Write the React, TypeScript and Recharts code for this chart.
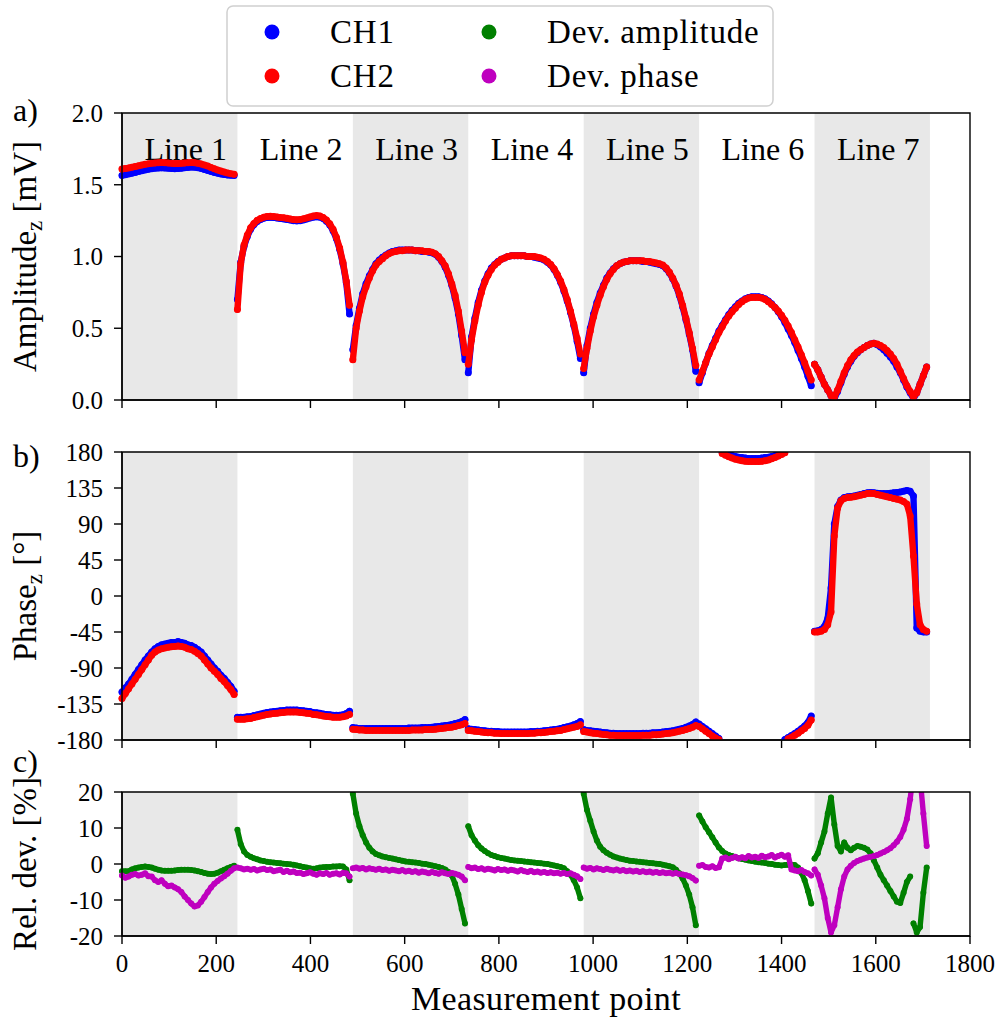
import React from "react";
import { ComposedChart, Scatter, XAxis, YAxis, ReferenceArea } from "recharts";

const FONT = '"Liberation Serif", "Times New Roman", serif';
const BLUE = "#0000ff";
const RED = "#ff0000";
const GREEN = "#008000";
const MAGENTA = "#bf00bf";
const SHADE = "#e8e8e8";

// every 7th measurement point, 35 samples per line (245 points per line)
const STEP = 7;
const PER_LINE = 35;
const LINE_LEN = 245;
const lineNames = ["Line 1", "Line 2", "Line 3", "Line 4", "Line 5", "Line 6", "Line 7"];
const xTicks = [0, 200, 400, 600, 800, 1000, 1200, 1400, 1600, 1800];
const ampTicks = [0, 0.5, 1, 1.5, 2];
const phaseTicks = [-180, -135, -90, -45, 0, 45, 90, 135, 180];
const devTicks = [-20, -10, 0, 10, 20];

const ch1Amplitude = [
  1.565, 1.57, 1.575, 1.58, 1.586, 1.592, 1.598, 1.603, 1.608, 1.612, 1.615, 1.617, 1.618, 1.617, 1.615, 1.613, 1.612, 1.613, 1.615, 1.618, 1.621, 1.623, 1.622, 1.619, 1.614, 1.607, 1.6, 1.593, 1.586, 1.58, 1.575, 1.571, 1.568, 1.566, 1.565,
  0.7, 0.96, 1.07, 1.14, 1.19, 1.222, 1.244, 1.258, 1.267, 1.272, 1.273, 1.271, 1.268, 1.265, 1.262, 1.258, 1.254, 1.25, 1.248, 1.25, 1.255, 1.261, 1.268, 1.274, 1.277, 1.274, 1.264, 1.246, 1.22, 1.18, 1.125, 1.05, 0.95, 0.82, 0.6,
  0.35, 0.52, 0.64, 0.74, 0.81, 0.865, 0.91, 0.95, 0.975, 0.995, 1.01, 1.025, 1.035, 1.04, 1.045, 1.045, 1.045, 1.045, 1.045, 1.04, 1.04, 1.035, 1.035, 1.03, 1.025, 1.015, 0.995, 0.965, 0.925, 0.87, 0.8, 0.71, 0.6, 0.45, 0.28,
  0.19, 0.44, 0.57, 0.68, 0.765, 0.83, 0.88, 0.92, 0.945, 0.965, 0.98, 0.99, 1.0, 1.005, 1.005, 1.005, 1.005, 1.005, 1.0, 1.0, 0.995, 0.99, 0.985, 0.975, 0.96, 0.94, 0.91, 0.87, 0.82, 0.76, 0.69, 0.61, 0.52, 0.41, 0.29,
  0.19, 0.38, 0.5, 0.6, 0.68, 0.745, 0.8, 0.85, 0.885, 0.915, 0.935, 0.95, 0.96, 0.965, 0.97, 0.97, 0.97, 0.97, 0.965, 0.965, 0.96, 0.955, 0.95, 0.945, 0.935, 0.915, 0.885, 0.845, 0.795, 0.73, 0.65, 0.56, 0.46, 0.35, 0.2,
  0.12, 0.19, 0.26, 0.325, 0.38, 0.43, 0.48, 0.52, 0.56, 0.595, 0.625, 0.65, 0.675, 0.69, 0.705, 0.715, 0.72, 0.72, 0.72, 0.715, 0.705, 0.69, 0.67, 0.645, 0.615, 0.58, 0.54, 0.495, 0.45, 0.4, 0.345, 0.29, 0.23, 0.165, 0.1,
  0.25, 0.21, 0.16, 0.11, 0.07, 0.03, 0.01, 0.06, 0.12, 0.18, 0.23, 0.27, 0.305, 0.33, 0.35, 0.365, 0.38, 0.39, 0.395, 0.385, 0.37, 0.35, 0.325, 0.3, 0.27, 0.23, 0.19, 0.14, 0.09, 0.05, 0.01, 0.05, 0.11, 0.17, 0.23,
];

const ch2Amplitude = [
  1.61, 1.613, 1.617, 1.622, 1.627, 1.632, 1.637, 1.642, 1.646, 1.649, 1.652, 1.654, 1.655, 1.654, 1.652, 1.649, 1.648, 1.648, 1.65, 1.652, 1.654, 1.655, 1.653, 1.65, 1.645, 1.638, 1.63, 1.621, 1.612, 1.603, 1.595, 1.588, 1.582, 1.577, 1.573,
  0.63, 0.95, 1.08, 1.15, 1.2, 1.23, 1.252, 1.265, 1.274, 1.279, 1.28, 1.278, 1.275, 1.272, 1.27, 1.266, 1.262, 1.258, 1.256, 1.258, 1.263, 1.269, 1.276, 1.282, 1.285, 1.282, 1.272, 1.254, 1.228, 1.19, 1.135, 1.06, 0.96, 0.83, 0.66,
  0.28, 0.5, 0.62, 0.72, 0.79, 0.85, 0.9, 0.94, 0.965, 0.985, 1.005, 1.02, 1.03, 1.035, 1.04, 1.04, 1.045, 1.045, 1.045, 1.04, 1.04, 1.04, 1.035, 1.035, 1.03, 1.02, 1.0, 0.97, 0.935, 0.88, 0.81, 0.73, 0.62, 0.48, 0.33,
  0.25, 0.42, 0.55, 0.66, 0.75, 0.82, 0.87, 0.91, 0.94, 0.96, 0.98, 0.99, 1.0, 1.005, 1.005, 1.005, 1.005, 1.005, 1.0, 1.0, 1.0, 0.995, 0.99, 0.98, 0.965, 0.945, 0.915, 0.875, 0.83, 0.77, 0.7, 0.62, 0.53, 0.43, 0.32,
  0.22, 0.36, 0.48, 0.58, 0.66, 0.73, 0.79, 0.84, 0.88, 0.91, 0.935, 0.95, 0.96, 0.965, 0.97, 0.97, 0.97, 0.97, 0.97, 0.965, 0.965, 0.96, 0.955, 0.95, 0.94, 0.92, 0.89, 0.85, 0.8, 0.74, 0.66, 0.57, 0.47, 0.36, 0.24,
  0.14, 0.2, 0.26, 0.32, 0.37, 0.42, 0.47, 0.51, 0.55, 0.585, 0.615, 0.64, 0.665, 0.685, 0.7, 0.71, 0.715, 0.715, 0.715, 0.71, 0.7, 0.685, 0.665, 0.645, 0.62, 0.59, 0.555, 0.515, 0.47, 0.42, 0.37, 0.315, 0.26, 0.2, 0.14,
  0.25, 0.21, 0.16, 0.11, 0.07, 0.03, 0.02, 0.07, 0.13, 0.19, 0.24, 0.28, 0.31, 0.335, 0.35, 0.365, 0.38, 0.39, 0.395, 0.39, 0.38, 0.365, 0.345, 0.32, 0.29, 0.25, 0.2, 0.15, 0.1, 0.06, 0.02, 0.05, 0.11, 0.17, 0.23,
];

const ch1Phase = [
  -120, -115, -110, -104, -98, -92, -86, -80, -75, -70, -66, -63, -61, -60, -59, -58, -58, -57, -58, -59, -61, -62, -64, -67, -70, -75, -80, -85, -90, -94, -99, -103, -108, -113, -119,
  -151.5, -151.5, -151.5, -151, -150.5, -149.5, -148.5, -147.5, -146.5, -145.5, -145, -144.5, -144, -143.5, -143, -142.5, -142.5, -142.5, -142.5, -143, -143.5, -144, -144.5, -145.5, -146, -146.5, -147.5, -148, -148.5, -149, -149, -149, -148.5, -147, -144,
  -164.5, -165, -165.5, -165.5, -165.5, -165.5, -165.5, -165.5, -165.5, -165.5, -165.5, -165.5, -165.5, -165.5, -165.5, -165.5, -165.5, -165, -165, -165, -165, -164.5, -164.5, -164.5, -164, -163.5, -163, -162.5, -162, -161.5, -160.5, -159.5, -158.5, -157, -154.5,
  -166, -166.5, -167, -167.5, -168, -168.5, -169, -169, -169.5, -169.5, -170, -170, -170, -170, -170, -170, -170, -170, -170, -169.5, -169.5, -169, -169, -168.5, -168, -167.5, -167, -166.5, -165.5, -164.5, -163.5, -162.5, -161, -159.5, -157,
  -167, -168, -168.5, -169, -169.5, -170, -170.5, -171, -171.5, -171.5, -172, -172, -172, -172, -172, -172, -172, -172, -171.5, -171.5, -171.5, -171, -171, -170.5, -170, -169.5, -169, -168.5, -167.5, -166.5, -165.5, -164, -162.5, -160.5, -157.5,
  -160, -163, -166, -169, -172, -175, -178, 179.5, 178, 176.5, 175.5, 174.5, 173.5, 173, 172.5, 172, 172, 172, 172, 172.5, 173, 173.5, 174.5, 175.5, 177, 178.5, -179.5, -177, -174.5, -172, -169, -166, -162.5, -158, -150,
  -44, -43.5, -42, -38, -28, 10, 90, 112, 120, 123, 124, 124.5, 125, 126, 127, 128, 129, 129.5, 129, 128.5, 128, 128, 128, 128.5, 129, 129.5, 130, 131, 132, 131, 125, -40, -44, -45, -45,
];

const ch2Phase = [
  -128, -122, -116, -110, -104, -98, -92, -86, -80, -74, -70, -67.5, -66, -65, -64, -63.5, -63, -62.5, -63, -64, -66, -67, -69, -72, -75, -80, -85, -90, -94, -98, -103, -107, -112, -117, -123,
  -154, -154, -154, -153.5, -153, -152, -151, -150, -149, -148, -147.5, -147, -146.5, -146, -145.5, -145, -145, -145, -145, -145.5, -146, -146.5, -147, -148, -148.5, -149, -150, -150.5, -151, -151.5, -151.5, -151.5, -151, -150, -148,
  -166.5, -167, -167.5, -167.5, -168, -168, -168, -168, -168, -168, -168, -168, -168, -168, -168, -168, -168, -168, -167.5, -167.5, -167.5, -167.5, -167, -167, -167, -166.5, -166, -165.5, -165, -164.5, -164, -163, -162, -161, -159.5,
  -168, -168.5, -169, -169.5, -170, -170.5, -171, -171, -171.5, -171.5, -172, -172, -172, -172, -172, -172, -172, -172, -172, -171.5, -171.5, -171, -171, -170.5, -170, -169.5, -169, -168.5, -168, -167, -166, -165, -164, -163, -161,
  -169.5, -170, -171, -171.5, -172, -172.5, -173, -173.5, -174, -174, -174.5, -174.5, -174.5, -174.5, -174.5, -174.5, -174.5, -174.5, -174, -174, -174, -173.5, -173.5, -173, -172.5, -172, -171.5, -171, -170, -169, -168, -167, -165.5, -164, -162,
  -163, -166, -169, -172, -175, -177.5, -179.5, 178, 176, 174, 172.5, 171, 170, 169, 168.5, 168, 168, 168, 168, 168.5, 169, 170, 171.5, 173, 175, 177, 179, -178.5, -176.5, -174, -171.5, -168.5, -165.5, -161.5, -155,
  -45, -45, -44, -42, -36, -20, 75, 110, 119, 122, 123, 123.5, 124, 125, 126, 127, 128, 128.5, 128, 127, 126, 125, 124, 123, 122, 121, 120, 118, 115, 100, 50, -10, -36, -42, -44,
];

const devAmplitude = [
  -2, -2, -2, -1.5, -1.2, -1, -0.8, -0.7, -0.8, -1, -1.3, -1.6, -1.8, -1.9, -1.9, -1.9, -1.8, -1.7, -1.6, -1.6, -1.6, -1.7, -1.8, -2, -2.2, -2.5, -2.7, -2.8, -2.7, -2.4, -2, -1.6, -1.2, -0.8, -0.5,
  9.5, 5.5, 3.5, 2.5, 2, 1.6, 1.3, 1, 0.8, 0.6, 0.5, 0.4, 0.3, 0.2, 0.1, 0, -0.1, -0.2, -0.4, -0.6, -0.8, -1, -1.2, -1.3, -1.2, -1, -0.9, -0.8, -0.8, -0.7, -0.7, -0.6, -0.7, -1.5, -4.5,
  19.5, 14, 10.5, 8, 6, 4.5, 3.5, 2.8, 2.4, 2.1, 1.9, 1.7, 1.5, 1.3, 1.1, 0.9, 0.7, 0.6, 0.5, 0.4, 0.3, 0.1, 0, -0.2, -0.4, -0.6, -0.8, -1.1, -1.5, -2.2, -3.2, -5.5, -8.5, -12.5, -16.5,
  10.5, 8, 6.5, 5.2, 4.3, 3.6, 3, 2.5, 2.2, 1.9, 1.7, 1.5, 1.3, 1.1, 1, 0.9, 0.8, 0.7, 0.6, 0.5, 0.4, 0.3, 0.2, 0.1, 0, -0.2, -0.4, -0.6, -0.8, -1.2, -2, -3, -4.5, -6.5, -9.5,
  19.5, 15, 12, 9, 6.5, 4.8, 3.8, 3.1, 2.6, 2.1, 1.8, 1.5, 1.3, 1.1, 0.9, 0.8, 0.7, 0.6, 0.5, 0.4, 0.3, 0.2, 0.1, 0, -0.2, -0.4, -0.6, -0.9, -1.6, -2.6, -4, -6, -8.5, -12, -17,
  13.5, 11.8, 10.2, 8.8, 7.4, 6, 4.6, 3.6, 2.9, 2.5, 2.2, 1.9, 1.6, 1.4, 1.2, 1, 0.8, 0.65, 0.5, 0.4, 0.3, 0.1, 0, -0.2, -0.3, -0.4, -0.3, -0.2, -0.2, -0.3, -1, -2.5, -4.5, -7.5, -11,
  1.5, 3, 6, 9, 14, 18.5, 11, 5, 3.5, 6, 4.5, 3.8, 4.5, 5, 4.8, 4.5, 4, 3, 1, -1, -3, -4.5, -6, -7.5, -9, -10.5, -10.8, -8, -5, -3.5, -16.5, -19, -17.5, -8, -1,
];

const devPhase = [
  -3.2, -3.8, -3.5, -3, -2.8, -3.2, -3, -2.6, -3.4, -3.5, -4.5, -5, -4.5, -5.5, -6.2, -6, -6.5, -7, -7.8, -9, -10, -11, -11.8, -11.5, -10.5, -9.2, -7.8, -6.5, -5.5, -4.7, -4, -3.4, -2.7, -1.9, -1.2,
  -1, -1.2, -1.5, -1.3, -1.6, -1.4, -1.8, -1.5, -1.3, -1.7, -1.5, -2, -1.8, -1.6, -2.2, -1.9, -2.3, -2.1, -2.5, -2.4, -2.8, -2.6, -2.3, -2.7, -3, -2.6, -2.8, -2.5, -3, -2.7, -2.6, -2.9, -2.5, -2.6, -3.5,
  -1.2, -1, -1.3, -1.1, -1.5, -1.2, -1.4, -1.6, -1.3, -1.7, -1.5, -1.9, -1.6, -1.8, -2, -1.7, -2.1, -1.9, -2.2, -2, -2.4, -2.1, -2.3, -2.6, -2.2, -2.5, -2.7, -2.3, -2.6, -2.8, -2.5, -2.7, -3, -3.5, -4.5,
  -0.8, -1.2, -1, -1.4, -1.2, -1.6, -1.3, -1.5, -1.8, -1.4, -1.7, -1.5, -1.9, -1.6, -1.8, -2.1, -1.7, -2, -2.2, -1.9, -2.3, -2.1, -2.4, -2.2, -2.5, -2.3, -2.6, -2.4, -2.7, -2.5, -2.8, -2.6, -3, -3.4, -4.2,
  -1, -1.3, -1.1, -1.5, -1.2, -1.4, -1.7, -1.3, -1.6, -1.8, -1.5, -1.9, -1.7, -2, -1.8, -2.1, -1.9, -2.2, -2, -2.3, -2.1, -2.4, -2.2, -2.5, -2.3, -2.6, -2.4, -2.7, -2.5, -2.8, -2.9, -3.1, -3.4, -3.9, -4.6,
  -0.5, -0.3, -0.8, -1, -0.6, -1.1, -0.9, 1.5, 1.8, 1.3, 1.7, 2, 1.5, 1.9, 1.6, 2.2, 1.8, 2, 1.7, 2.3, 1.9, 2.1, 2.5, 1.8, 2.2, 2.6, 2, 2.4, -1.5, -1.8, -2, -1.7, -2.2, -2.6, -3.2,
  -1.5, -3, -6, -9.5, -15, -19, -17, -12, -7, -3.5, -1.5, -0.5, 0.3, 0.8, 1.2, 1.5, 1.8, 2, 2.2, 2.5, 2.9, 3.3, 3.8, 4.4, 5.2, 6.2, 7.5, 9.5, 12.5, 18, 26, 30, 24, 14, 5,
];

type Series = { name: string; color: string; values: number[]; r: number };

const ampSeries: Series[] = [
  { name: "CH1", color: BLUE, values: ch1Amplitude, r: 3.5 },
  { name: "CH2", color: RED, values: ch2Amplitude, r: 3.5 },
];
const phaseSeries: Series[] = [
  { name: "CH1", color: BLUE, values: ch1Phase, r: 3.5 },
  { name: "CH2", color: RED, values: ch2Phase, r: 3.5 },
];
const devSeries: Series[] = [
  { name: "Dev. amplitude", color: GREEN, values: devAmplitude, r: 3 },
  { name: "Dev. phase", color: MAGENTA, values: devPhase, r: 3 },
];

// split a series into runs: new run at every line start and at big jumps (phase wraps)
function toRuns(values: number[], jump: number) {
  const runs: { x: number; y: number }[][] = [];
  let cur: { x: number; y: number }[] = [];
  values.forEach((y, i) => {
    const prev = cur[cur.length - 1];
    if (prev && (i % PER_LINE === 0 || Math.abs(y - prev.y) > jump)) {
      runs.push(cur);
      cur = [];
    }
    cur.push({ x: i * STEP, y });
  });
  runs.push(cur);
  return runs;
}

const dotShape = (color: string, r: number) => (p: any) =>
  p.cx == null || p.cy == null ? <g /> : <circle cx={p.cx} cy={p.cy} r={r} fill={color} />;

function BandLabel(props: any) {
  const vb = props.viewBox;
  if (!vb) return null;
  return (
    <text x={vb.x + vb.width / 2 + 6} y={vb.y + 47} textAnchor="middle" fontFamily={FONT} fontSize={32} fill="#000">
      {props.text}
    </text>
  );
}

function YTitle(props: any) {
  const vb = props.viewBox || { x: 0, y: 0, width: 122, height: 0 };
  const cy = vb.y + vb.height / 2;
  return (
    <g>
      <text transform={`translate(36, ${cy}) rotate(-90)`} textAnchor="middle" fontFamily={FONT} fontSize={33} fill="#000">
        {props.main}
        {props.sub ? <tspan fontSize={23} dy={6}>{props.sub}</tspan> : null}
        <tspan dy={props.sub ? -6 : 0}>{" " + props.unit}</tspan>
      </text>
      <text x={13} y={vb.y + props.letterDy} fontFamily={FONT} fontSize={32} fill="#000">
        {props.letter}
      </text>
    </g>
  );
}

function XTitle(props: any) {
  const vb = props.viewBox;
  if (!vb) return null;
  return (
    <text x={vb.x + vb.width / 2} y={vb.y + 74} textAnchor="middle" fontFamily={FONT} fontSize={34} letterSpacing={0.4} fill="#000">
      Measurement point
    </text>
  );
}

type PanelProps = {
  top: number;
  height: number;
  marginTop: number;
  axisHeight: number;
  domain: [number, number];
  yTicks: number[];
  fmt: (v: number) => string;
  series: Series[];
  jump: number;
  main: string;
  sub?: string;
  unit: string;
  letter: string;
  letterDy: number;
  lineLabels?: boolean;
  xLabels?: boolean;
};

const tickStyle = { fontSize: 25, fontFamily: FONT, fill: "#000" };
const axisLine = { stroke: "#000", strokeWidth: 1.4 };

function Panel(p: PanelProps) {
  return (
    <div style={{ position: "absolute", left: 0, top: p.top, width: 1006, height: p.height }}>
      <ComposedChart width={1006} height={p.height} margin={{ top: p.marginTop, right: 36, bottom: 0, left: 0 }}>
        {lineNames.map((name, k) => (
          <ReferenceArea
            key={name}
            x1={k * LINE_LEN}
            x2={(k + 1) * LINE_LEN}
            y1={p.domain[0]}
            y2={p.domain[1]}
            fill={k % 2 === 0 ? SHADE : "none"}
            fillOpacity={1}
            stroke="none"
            label={p.lineLabels ? <BandLabel text={name} /> : undefined}
          />
        ))}
        <XAxis
          type="number"
          dataKey="x"
          domain={[0, 1800]}
          ticks={xTicks}
          interval={0}
          height={p.axisHeight}
          tickSize={8}
          tickMargin={10}
          axisLine={axisLine}
          tickLine={axisLine}
          tick={tickStyle}
          tickFormatter={(v: number) => (p.xLabels ? String(v) : "")}
          label={p.xLabels ? <XTitle /> : undefined}
        />
        <YAxis
          type="number"
          dataKey="y"
          domain={p.domain}
          ticks={p.yTicks}
          interval={0}
          allowDataOverflow
          width={122}
          tickSize={8}
          tickMargin={11}
          axisLine={axisLine}
          tickLine={axisLine}
          tick={tickStyle}
          tickFormatter={p.fmt}
          label={<YTitle main={p.main} sub={p.sub} unit={p.unit} letter={p.letter} letterDy={p.letterDy} />}
        />
        {p.series.flatMap((s) =>
          toRuns(s.values, p.jump).map((run, i) => (
            <Scatter
              key={`${s.name}-${i}`}
              name={s.name}
              data={run}
              fill={s.color}
              shape={dotShape(s.color, s.r)}
              line={
                run.length > 1
                  ? { stroke: s.color, strokeWidth: s.r * 2 - 0.6, strokeLinejoin: "round", strokeLinecap: "round" }
                  : false
              }
              lineType="joint"
              isAnimationActive={false}
            />
          ))
        )}
        <ReferenceArea
          x1={0}
          x2={1800}
          y1={p.domain[0]}
          y2={p.domain[1]}
          fill="none"
          stroke="#000"
          strokeWidth={1.4}
          zIndex={700}
        />
      </ComposedChart>
    </div>
  );
}

const legendItems = [
  { series: ampSeries[0], col: 0, row: 0 },
  { series: ampSeries[1], col: 0, row: 1 },
  { series: devSeries[0], col: 1, row: 0 },
  { series: devSeries[1], col: 1, row: 1 },
];

function LegendBox() {
  return (
    <svg width={1006} height={112} style={{ position: "absolute", left: 0, top: 0, zIndex: 5, pointerEvents: "none" }}>
      <rect x={227} y={6} width={546} height={100} rx={6} fill="#fff" fillOpacity={0.8} stroke="#d0d0d0" strokeWidth={1.5} />
      {legendItems.map((it) => {
        const cx = it.col === 0 ? 272 : 489;
        const cy = it.row === 0 ? 32 : 76;
        return (
          <g key={it.series.name}>
            <circle cx={cx} cy={cy} r={7.5} fill={it.series.color} />
            <text x={cx + 58} y={cy + 10.5} fontFamily={FONT} fontSize={33} letterSpacing={0.8} fill="#000">
              {it.series.name}
            </text>
          </g>
        );
      })}
    </svg>
  );
}

export default function App() {
  return (
    <div style={{ position: "absolute", left: 0, top: 0, width: 1006, height: 1019, background: "#fff" }}>
      <Panel
        top={0}
        height={430}
        marginTop={113}
        axisHeight={30}
        domain={[0, 2]}
        yTicks={ampTicks}
        fmt={(v) => v.toFixed(1)}
        series={ampSeries}
        jump={1}
        main="Amplitude"
        sub="z"
        unit="[mV]"
        letter="a)"
        letterDy={8}
        lineLabels
      />
      <Panel
        top={430}
        height={340}
        marginTop={22}
        axisHeight={30}
        domain={[-180, 180]}
        yTicks={phaseTicks}
        fmt={(v) => String(v)}
        series={phaseSeries}
        jump={200}
        main="Phase"
        sub="z"
        unit="[°]"
        letter="b)"
        letterDy={15}
      />
      <Panel
        top={730}
        height={289}
        marginTop={62}
        axisHeight={83}
        domain={[-20, 20]}
        yTicks={devTicks}
        fmt={(v) => String(v)}
        series={devSeries}
        jump={10}
        main="Rel. dev."
        unit="[%]"
        letter="c)"
        letterDy={-20}
        xLabels
      />
      <LegendBox />
    </div>
  );
}
